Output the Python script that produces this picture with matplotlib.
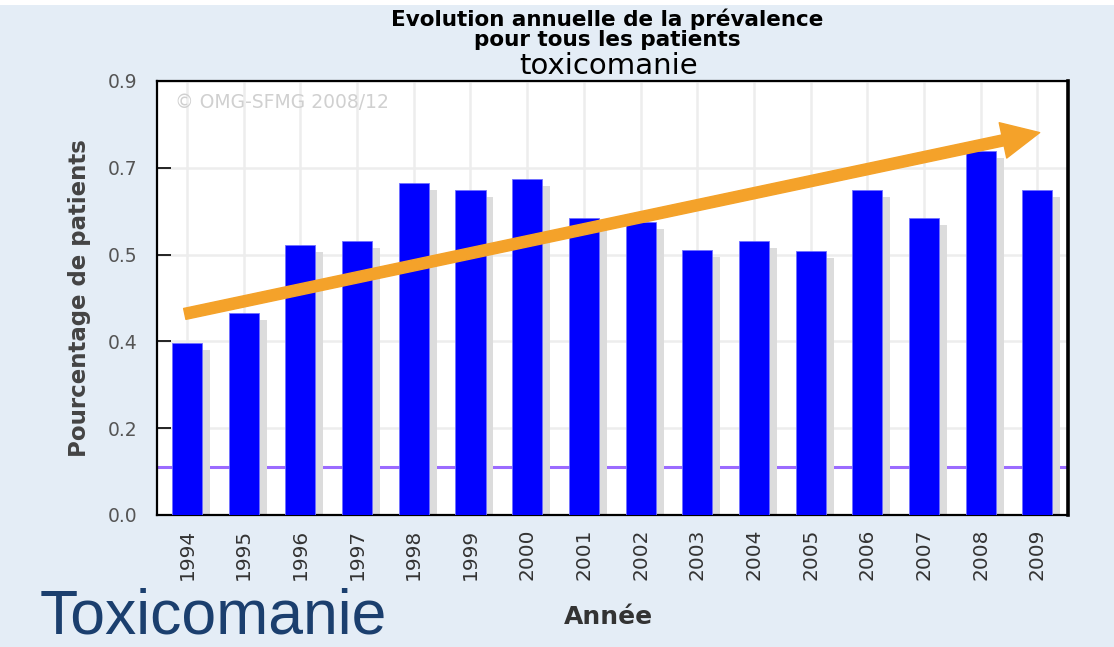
import numpy as np
import matplotlib
matplotlib.use("Agg")
import matplotlib.pyplot as plt
from matplotlib.patches import Rectangle

years = ["1994", "1995", "1996", "1997", "1998", "1999", "2000", "2001",
         "2002", "2003", "2004", "2005", "2006", "2007", "2008", "2009"]
prevalence = [0.356, 0.418, 0.560, 0.568, 0.688, 0.673, 0.697, 0.616,
              0.607, 0.549, 0.568, 0.548, 0.674, 0.616, 0.755, 0.674]
ytick_vals = [0.0, 0.18, 0.36, 0.54, 0.72, 0.9]
ytick_labels = ["0.0", "0.2", "0.4", "0.5", "0.7", "0.9"]
ref_level = 0.10
# trend arrow (start / end, data coords)
arrow_start = (-0.04, 0.417)
arrow_end = (15.04, 0.793)

BG     = "#E4EDF6"
BLUE   = "#0000FF"
SHADOW = "#DCDCDC"
PURPLE = "#9B6BFF"
ORANGE = "#F4A22A"
NAVY   = "#1B3F6E"

fig = plt.figure(figsize=(11.14, 6.47), dpi=100, facecolor=BG)
fig.patches.append(Rectangle((0, 1 - 5 / 647), 1, 5 / 647, transform=fig.transFigure,
                             facecolor="white", edgecolor="none", zorder=0))

ax = fig.add_axes([157 / 1114, 132 / 647, 911 / 1114, 434 / 647])
ax.set_facecolor("white")

x = np.arange(len(years))
w = 0.53
dx, dy = 0.14, 0.0145

ax.axhline(ref_level, color=PURPLE, linewidth=2.2, zorder=1.5)
ax.bar(x + dx, np.array(prevalence) - dy, width=w, color=SHADOW, zorder=2)
ax.bar(x, prevalence, width=w, color=BLUE, edgecolor="#7070FF", linewidth=0.6, zorder=3)

ax.annotate("", xy=arrow_end, xytext=arrow_start,
            arrowprops=dict(arrowstyle="simple,head_width=26,head_length=27,tail_width=8",
                            mutation_scale=1, color=ORANGE, shrinkA=0, shrinkB=0),
            zorder=5)

ax.set_xlim(-0.53, 15.54)
ax.set_ylim(0, 0.9)
ax.set_xticks(x)
ax.set_xticklabels(years, rotation=90, fontsize=14.5, color="#333333")
ax.set_yticks(ytick_vals)
ax.set_yticklabels(ytick_labels, fontsize=13.5, color="#555555")
ax.tick_params(axis="x", length=0, pad=10)
ax.tick_params(axis="y", direction="in", length=10, width=1.2, pad=14)
ax.grid(color="#EDEDED", linewidth=1.8, zorder=0)
ax.set_axisbelow(True)
for s in ax.spines.values():
    s.set_linewidth(1.6)
    s.set_color("black")
ax.spines["right"].set_linewidth(2.6)

ax.text(0.02, 0.95, "© OMG-SFMG 2008/12", transform=ax.transAxes,
        fontsize=13.5, color="#D0D0D0", ha="left", va="center", zorder=1)

ax.set_ylabel("Pourcentage de patients", fontsize=16.5, fontweight="bold",
              color="#444444", labelpad=12)
fig.text(608 / 1114, 1 - 617 / 647, "Année", fontsize=18, fontweight="bold",
         color="#333333", ha="center", va="center")

fig.text(607 / 1114, 1 - 19 / 647, "Evolution annuelle de la prévalence",
         fontsize=15.5, fontweight="bold", ha="center", va="center")
fig.text(607 / 1114, 1 - 40 / 647, "pour tous les patients",
         fontsize=15.5, fontweight="bold", ha="center", va="center")
fig.text(609 / 1114, 1 - 66 / 647, "toxicomanie",
         fontsize=21, ha="center", va="center")

fig.text(40 / 1114, 1 - 646 / 647, "Toxicomanie", fontsize=45,
         family="Liberation Sans", color=NAVY, ha="left", va="bottom")

fig.savefig("out.png", dpi=100, facecolor=BG)
